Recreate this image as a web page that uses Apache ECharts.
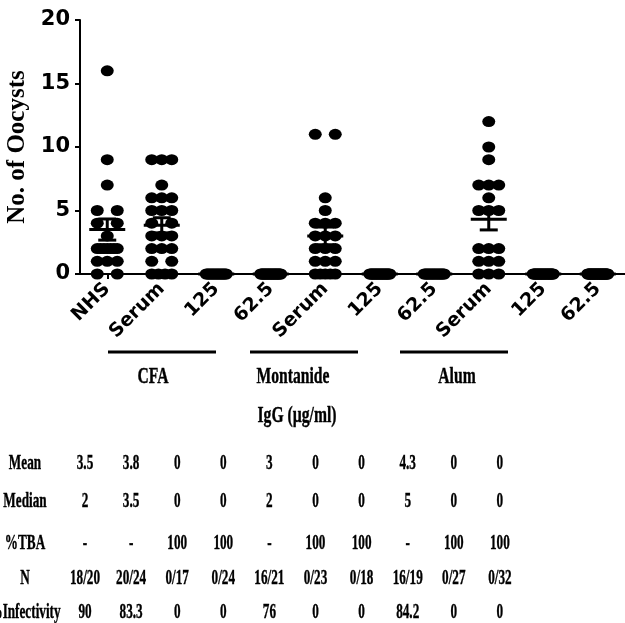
<!DOCTYPE html>
<html>
<head>
<meta charset="utf-8">
<script src="https://cdn.jsdelivr.net/npm/echarts@6/dist/echarts.min.js"></script>
<style>
  html, body { margin: 0; padding: 0; background: #fff; }
  #main { width: 625px; height: 623px; }
</style>
</head>
<body>
<div id="main"></div>
<script>
// x categories
var categories = ['NHS', 'Serum', '125', '62.5', 'Serum', '125', '62.5', 'Serum', '125', '62.5'];

// oocyst counts per mosquito
var nhs = [16, 9, 7, 5, 5, 4, 4, 3, 2, 2, 2, 2, 2, 2, 2, 1, 1, 1, 0, 0];
var cfaSerum = [9, 9, 9, 7, 6, 6, 6, 5, 5, 5, 4, 4, 3, 3, 3, 2, 2, 2, 1, 1, 0, 0, 0, 0];
var cfa125 = [0, 0, 0, 0, 0, 0, 0, 0, 0, 0, 0, 0, 0, 0, 0, 0, 0];
var cfa625 = [0, 0, 0, 0, 0, 0, 0, 0, 0, 0, 0, 0, 0, 0, 0, 0, 0, 0, 0, 0, 0, 0, 0, 0];
var monSerum = [11, 11, 6, 5, 4, 4, 4, 3, 3, 3, 2, 2, 2, 1, 1, 1, 0, 0, 0, 0, 0];
var mon125 = [0, 0, 0, 0, 0, 0, 0, 0, 0, 0, 0, 0, 0, 0, 0, 0, 0, 0, 0, 0, 0, 0, 0];
var mon625 = [0, 0, 0, 0, 0, 0, 0, 0, 0, 0, 0, 0, 0, 0, 0, 0, 0, 0];
var alumSerum = [12, 10, 9, 7, 7, 7, 6, 5, 5, 5, 2, 2, 2, 1, 1, 1, 0, 0, 0];
var alum125 = [0, 0, 0, 0, 0, 0, 0, 0, 0, 0, 0, 0, 0, 0, 0, 0, 0, 0, 0, 0, 0, 0, 0, 0, 0, 0, 0];
var alum625 = [0, 0, 0, 0, 0, 0, 0, 0, 0, 0, 0, 0, 0, 0, 0, 0, 0, 0, 0, 0, 0, 0, 0, 0, 0, 0, 0, 0, 0, 0, 0, 0];

var groups = [nhs, cfaSerum, cfa125, cfa625, monSerum, mon125, mon625, alumSerum, alum125, alum625];

// group labels under the axis
var adjuvants = ['CFA', 'Montanide', 'Alum'];
var unitLabel = 'IgG (\u00b5g/ml)';

// table under the chart
var rowLabels = ['Mean', 'Median', '%TBA', 'N', '%Infectivity'];
var meanRow = ['3.5', '3.8', '0', '0', '3', '0', '0', '4.3', '0', '0'];
var medianRow = ['2', '3.5', '0', '0', '2', '0', '0', '5', '0', '0'];
var tbaRow = ['-', '-', '100', '100', '-', '100', '100', '-', '100', '100'];
var nRow = ['18/20', '20/24', '0/17', '0/24', '16/21', '0/23', '0/18', '16/19', '0/27', '0/32'];
var infRow = ['90', '83.3', '0', '0', '76', '0', '0', '84.2', '0', '0'];
var tableRows = [meanRow, medianRow, tbaRow, nRow, infRow];

var SANS = "'DejaVu Sans', 'Liberation Sans', sans-serif";
var SERIF = "'Liberation Serif', 'Times New Roman', serif";
var SPAN = 20; // horizontal spread of a row of equal values, px

// spread equal values side by side, like a prism scatter
function swarm(vals, cat) {
  var counts = {}, seen = {};
  vals.forEach(function (v) { counts[v] = (counts[v] || 0) + 1; });
  return vals.map(function (v) {
    var n = counts[v];
    seen[v] = seen[v] === undefined ? 0 : seen[v] + 1;
    var dx = n > 1 ? -SPAN / 2 + SPAN * seen[v] / (n - 1) : 0;
    return { value: [cat, v], symbolOffset: [dx, 0] };
  });
}

var dots = [];
var stats = [];
groups.forEach(function (g, i) {
  dots = dots.concat(swarm(g, i));
  var n = g.length;
  var m = g.reduce(function (a, b) { return a + b; }, 0) / n;
  var ss = g.reduce(function (a, b) { return a + (b - m) * (b - m); }, 0);
  var sem = Math.sqrt(ss / (n - 1)) / Math.sqrt(n);
  stats.push([i, m, sem]);
});

// bold serif text, squeezed like the source figure
function serifText(str, x, y, size, sx) {
  return {
    type: 'text', x: x, y: y, scaleX: sx,
    style: {
      text: str, font: 'bold ' + size + 'px ' + SERIF, fill: '#000',
      stroke: '#000', lineWidth: 0.4,
      textAlign: 'center', textVerticalAlign: 'middle'
    }
  };
}

// graphic: group bars, labels, table
var graphics = [];
var groupBars = [[108, 216], [250, 358], [400, 508]];
var groupLabelX = [153, 293, 457];
groupBars.forEach(function (b, k) {
  graphics.push({ type: 'line', shape: { x1: b[0], y1: 352, x2: b[1], y2: 352 }, style: { stroke: '#000', lineWidth: 3 } });
  graphics.push(serifText(adjuvants[k], groupLabelX[k], 377, 23, 0.68));
});
graphics.push(serifText(unitLabel, 297, 416, 23, 0.68));
var rowY = [463, 501, 543, 578, 612];
rowLabels.forEach(function (lab, r) {
  graphics.push(serifText(lab, 25, rowY[r], 22, 0.6));
  tableRows[r].forEach(function (cell, c) {
    graphics.push(serifText(cell, 85 + c * 46.1, rowY[r], 22, 0.6));
  });
});

var chart = echarts.init(document.getElementById('main'));
chart.setOption({
  backgroundColor: '#fff',
  animation: false,
  grid: { left: 80, right: 0, top: 20, bottom: 349, containLabel: false, outerBoundsMode: 'none' },
  xAxis: {
    type: 'category',
    data: categories,
    axisLine: { lineStyle: { color: '#000', width: 2 } },
    axisTick: { show: true, alignWithLabel: true, length: 5, lineStyle: { color: '#000', width: 2 } },
    axisLabel: { interval: 0, rotate: 45, margin: 12, color: '#000', fontFamily: SANS, fontWeight: 'bold', fontSize: 19 },
    splitLine: { show: false }
  },
  yAxis: {
    type: 'value',
    min: 0, max: 20, interval: 5,
    name: 'No. of Oocysts',
    nameLocation: 'middle',
    nameRotate: 90,
    nameGap: 45,
    nameTextStyle: { color: '#000', fontFamily: SERIF, fontWeight: 'bold', fontSize: 25 },
    axisLine: { show: true, lineStyle: { color: '#000', width: 2 } },
    axisTick: { show: true, length: 5, lineStyle: { color: '#000', width: 2 } },
    axisLabel: { margin: 10, color: '#000', fontFamily: SANS, fontWeight: 'bold', fontSize: 21 },
    splitLine: { show: false }
  },
  series: [
    {
      type: 'scatter',
      data: dots,
      symbol: 'circle',
      symbolSize: [13, 11],
      itemStyle: { color: '#000', opacity: 1 },
      z: 2
    },
    {
      type: 'custom',
      data: stats,
      z: 3,
      renderItem: function (params, api) {
        var i = api.value(0), m = api.value(1), s = api.value(2);
        var c = api.coord([i, m]);
        var t = api.coord([i, m + s]);
        var b = api.coord([i, m - s]);
        var st = { stroke: '#000', lineWidth: 3 };
        return {
          type: 'group',
          children: [
            { type: 'line', shape: { x1: c[0] - 18, y1: c[1], x2: c[0] + 18, y2: c[1] }, style: st },
            { type: 'line', shape: { x1: c[0], y1: t[1], x2: c[0], y2: b[1] }, style: st },
            { type: 'line', shape: { x1: c[0] - 9, y1: t[1], x2: c[0] + 9, y2: t[1] }, style: st },
            { type: 'line', shape: { x1: c[0] - 9, y1: b[1], x2: c[0] + 9, y2: b[1] }, style: st }
          ]
        };
      }
    }
  ],
  graphic: graphics
});
</script>
</body>
</html>
